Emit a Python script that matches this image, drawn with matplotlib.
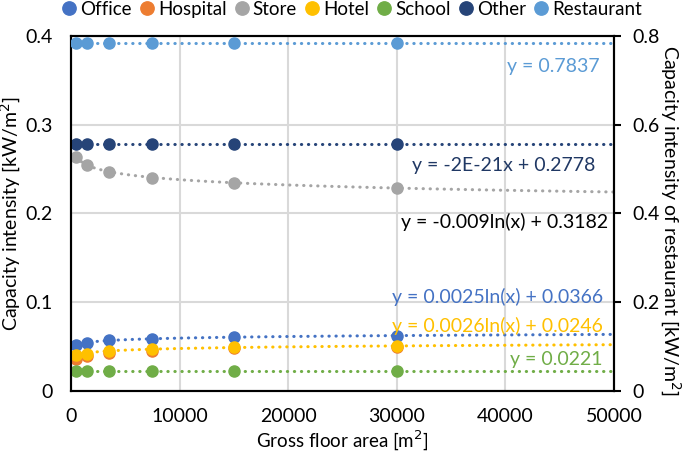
import numpy as np
import matplotlib
matplotlib.use("Agg")
import matplotlib.pyplot as plt

plt.rcParams['font.family'] = ['Lato', 'DejaVu Sans']

# gross floor area of the sample buildings
area = [500, 1500, 3500, 7500, 15000, 30000]

office = [0.052, 0.054, 0.057, 0.059, 0.061, 0.062]
hospital = [0.036, 0.039, 0.043, 0.045, 0.048, 0.050]
store = [0.264, 0.2546, 0.247, 0.2404, 0.2347, 0.2287]
hotel = [0.0406, 0.042, 0.045, 0.047, 0.049, 0.051]
school = [0.0221, 0.0221, 0.0221, 0.0221, 0.0221, 0.0221]
other = [0.2778, 0.2778, 0.2778, 0.2778, 0.2778, 0.2778]
restaurant = [0.7837, 0.7837, 0.7837, 0.7837, 0.7837, 0.7837]

names = ["Office", "Hospital", "Store", "Hotel", "School", "Other", "Restaurant"]
colors = ["#4472C4", "#ED7D31", "#A5A5A5", "#FFC000", "#70AD47", "#264478", "#5B9BD5"]

# trend type per series (None = no trendline)
trends = ["log", None, "log", "log", "lin", "lin", "lin"]
eq_text = ["y = 0.0025ln(x) + 0.0366", None, "y = -0.009ln(x) + 0.3182",
           "y = 0.0026ln(x) + 0.0246", "y = 0.0221", "y = -2E-21x + 0.2778",
           "y = 0.7837"]
eq_color = ["#4472C4", None, "black", "#FFC000", "#70AD47", "#203864", "#5B9BD5"]
eq_pos = [(48990, 0.1059), None, (49450, 0.1904), (48990, 0.0732),
          (48900, 0.0349), (48250, 0.2546), (48700, 0.3662)]

fig = plt.figure(figsize=(6.85, 4.53), dpi=100)
ax = fig.add_axes([0.1036, 0.137, 0.7927, 0.7835])
ax2 = ax.twinx()

series = [office, hospital, store, hotel, school, other, restaurant]
xs = np.array(area, dtype=float)
xfit = np.linspace(500, 50000, 300)
dot = (0, (0.1, 2.2))

for i, (name, ys, c) in enumerate(zip(names, series, colors)):
    target = ax2 if name == "Restaurant" else ax
    ys = np.array(ys)
    target.plot(xs, ys, 'o', color=c, ms=8, label=name, zorder=3 + i * 0.1)
    if trends[i] == "log":
        k, b = np.polyfit(np.log(xs), ys, 1)
        target.plot(xfit, k * np.log(xfit) + b, color=c, lw=2.2, ls=dot,
                    dash_capstyle='round', zorder=2)
    elif trends[i] == "lin":
        k, b = np.polyfit(xs, ys, 1)
        target.plot(xfit, k * xfit + b, color=c, lw=2.2, ls=dot,
                    dash_capstyle='round', zorder=2)

for i in range(len(names)):
    if eq_text[i] is None:
        continue
    ax.text(eq_pos[i][0], eq_pos[i][1], eq_text[i], color=eq_color[i],
            ha='right', va='center', fontsize=14, zorder=5)

ax.set_xlim(0, 50000)
ax.set_ylim(0, 0.4)
ax2.set_ylim(0, 0.8)
ax.set_xticks(np.arange(0, 50001, 10000))
ax.set_yticks([0, 0.1, 0.2, 0.3, 0.4])
ax.set_yticklabels(["0", "0.1", "0.2", "0.3", "0.4"])
ax2.set_yticks([0, 0.2, 0.4, 0.6, 0.8])
ax2.set_yticklabels(["0", "0.2", "0.4", "0.6", "0.8"])
ax.grid(True, color="#D9D9D9", lw=1.5)
ax.set_axisbelow(True)

for a in (ax, ax2):
    for s in a.spines.values():
        s.set_color("black")
        s.set_linewidth(1.5)
    a.tick_params(labelsize=14, width=1.5, direction='out')
ax.tick_params(axis='y', length=0, pad=13)
ax.tick_params(axis='x', length=0, pad=12)
ax2.tick_params(axis='y', length=5, pad=8)

ax.set_xlabel("Gross floor area [m$^2$]", fontsize=13.5, va='center')
ax.xaxis.set_label_coords(0.5, -0.142)
ax.set_ylabel("Capacity intensity [kW/m$^2$]", fontsize=14, va='center')
ax.yaxis.set_label_coords(-0.11, 0.5)
ax2.set_ylabel("Capacity intensity of restaurant [kW/m$^2$]", fontsize=14,
               rotation=270, va='center')
ax2.yaxis.set_label_coords(1.103, 0.48)

h1, l1 = ax.get_legend_handles_labels()
h2, l2 = ax2.get_legend_handles_labels()
fig.legend(h1 + h2, l1 + l2, loc='upper center', bbox_to_anchor=(0.513, 1.035),
           ncol=7, frameon=False, fontsize=13.5, handletextpad=0.15,
           columnspacing=0.35, markerscale=1.2, handlelength=0.9)

fig.savefig("out.png", dpi=100)
